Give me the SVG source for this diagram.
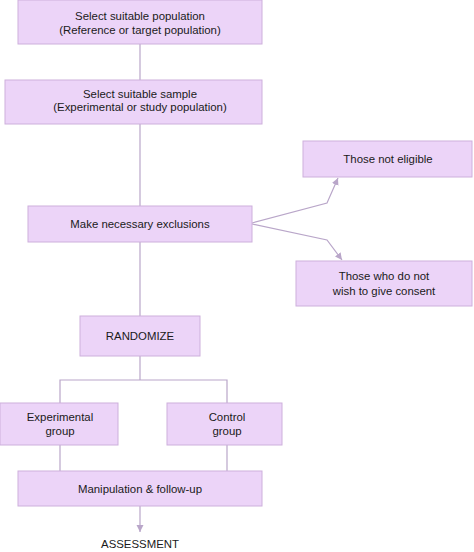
<svg xmlns="http://www.w3.org/2000/svg" width="474" height="552" viewBox="0 0 474 552">
<defs>
<style>
.box{fill:#ecd4f8;stroke:#cdb0dc;stroke-width:1}
.t{font-family:"Liberation Sans",Arial,sans-serif;font-size:11.4px;fill:#1a1a1a;text-anchor:middle}
.ln{fill:none;stroke:#b9a6c9;stroke-width:1.2}
</style>
<marker id="ah" markerWidth="8" markerHeight="8" refX="7" refY="4" orient="auto" markerUnits="userSpaceOnUse">
<path d="M0,0.5 L7,4 L0,7.5 Z" fill="#b9a6c9"/>
</marker>
</defs>
<rect width="474" height="552" fill="#ffffff"/>
<g id="connectors">
<line class="ln" x1="140" y1="44" x2="140" y2="80"/>
<line class="ln" x1="140" y1="124" x2="140" y2="206"/>
<line class="ln" x1="140" y1="242" x2="140" y2="316"/>
<polyline class="ln" points="252,223 327,203 338,178" marker-end="url(#ah)"/>
<polyline class="ln" points="252,224 327,240 342,260" marker-end="url(#ah)"/>
<line class="ln" x1="140" y1="356" x2="140" y2="380"/>
<polyline class="ln" points="60,403 60,380 227,380 227,403"/>
<line class="ln" x1="60" y1="445" x2="60" y2="471"/>
<line class="ln" x1="227" y1="445" x2="227" y2="471"/>
<line class="ln" x1="140" y1="506" x2="140" y2="532" marker-end="url(#ah)"/>
</g>
<g id="n1">
<rect class="box" x="18" y="0" width="244" height="44"/>
<text class="t" x="140" y="20">Select suitable population</text>
<text class="t" x="140" y="34">(Reference or target population)</text>
</g>
<g id="n2">
<rect class="box" x="5" y="80" width="257" height="44"/>
<text class="t" x="140" y="98">Select suitable sample</text>
<text class="t" x="140" y="111">(Experimental or study population)</text>
</g>
<g id="n3">
<rect class="box" x="28" y="206" width="224" height="36"/>
<text class="t" x="140" y="228">Make necessary exclusions</text>
</g>
<g id="n4">
<rect class="box" x="303" y="141" width="169" height="36"/>
<text class="t" x="388" y="163">Those not eligible</text>
</g>
<g id="n5">
<rect class="box" x="296" y="261" width="176" height="45"/>
<text class="t" x="384" y="280">Those who do not</text>
<text class="t" x="384" y="295">wish to give consent</text>
</g>
<g id="n6">
<rect class="box" x="80" y="316" width="120" height="40"/>
<text class="t" x="140" y="340">RANDOMIZE</text>
</g>
<g id="n7">
<rect class="box" x="0" y="403" width="118" height="42"/>
<text class="t" x="60" y="421">Experimental</text>
<text class="t" x="60" y="435">group</text>
</g>
<g id="n8">
<rect class="box" x="167" y="403" width="115" height="42"/>
<text class="t" x="227" y="421">Control</text>
<text class="t" x="227" y="435">group</text>
</g>
<g id="n9">
<rect class="box" x="18" y="471" width="244" height="35"/>
<text class="t" x="140" y="493">Manipulation &amp; follow-up</text>
</g>
<g id="n10">
<text class="t" x="140" y="548">ASSESSMENT</text>
</g>
</svg>
